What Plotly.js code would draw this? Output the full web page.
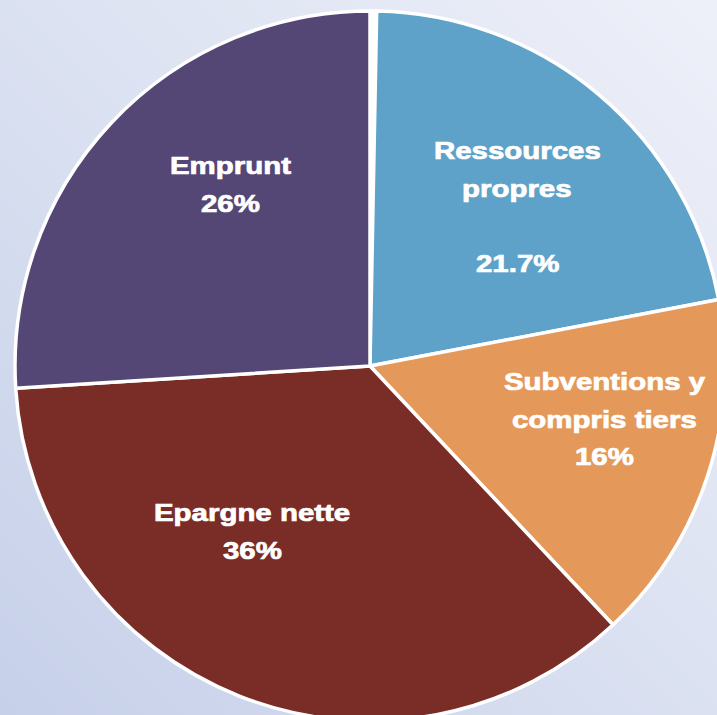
<!DOCTYPE html>
<html>
<head>
<meta charset="utf-8">
<script src="https://cdn.plot.ly/plotly-3.0.1.min.js"></script>
<style>
  html, body { margin: 0; padding: 0; width: 717px; height: 715px; overflow: hidden; }
  body { background: linear-gradient(225deg, #eef0f9 0%, #dde3f2 45%, #c6d0e9 100%); }
  #chart { position: absolute; left: 0; top: 0; width: 740px; height: 740px; }
  .annotation-text { transform-box: fill-box; transform-origin: center; transform: scaleX(1.28);
                     stroke: #ffffff; stroke-width: 0.7px; paint-order: stroke; }
</style>
</head>
<body>
<div id="chart"></div>
<script>
// ---- data ----
var categories = ['', 'Ressources propres', 'Subventions y compris tiers', 'Epargne nette', 'Emprunt'];
var values = [0.3, 21.7, 16, 36, 26];
var percentLabels = ['', '21.7%', '16%', '36%', '26%'];
var labelLines = [
  [],
  ['Ressources', 'propres', '', '21.7%'],
  ['Subventions y', 'compris tiers', '16%'],
  ['Epargne nette', '36%'],
  ['Emprunt', '26%']
];
var colors = ['#ffffff', '#5fa2c9', '#e4995a', '#7a2d27', '#554775'];

// ---- layout (pixel geometry of the page) ----
var W = 740, H = 740;
var cx = 370, cy = 366, R = 355;
var labelAnchors = [null, [517, 151], [604, 382], [252, 513], [230, 166]];
var lineStep = 37.5;

var annotations = [];
labelLines.forEach(function (lines, i) {
  if (!labelAnchors[i]) return;
  lines.forEach(function (t, k) {
    if (!t) return;
    annotations.push({
      xref: 'paper', yref: 'paper',
      x: labelAnchors[i][0] / W,
      y: 1 - (labelAnchors[i][1] + k * lineStep) / H,
      xanchor: 'center', yanchor: 'middle',
      text: t, showarrow: false,
      font: { family: 'Liberation Sans, Arial, sans-serif', size: 23, color: '#ffffff', weight: 'bold' }
    });
  });
});

var trace = {
  type: 'pie',
  labels: categories.map(function (c, i) { return c || ('_' + i); }),
  values: values,
  text: percentLabels,
  sort: false,
  direction: 'clockwise',
  rotation: 0,
  textinfo: 'none',
  hoverinfo: 'label+percent',
  showlegend: false,
  marker: { colors: colors, line: { color: '#ffffff', width: 3.5 } },
  domain: { x: [(cx - R) / W, (cx + R) / W], y: [1 - (cy + R) / H, 1 - (cy - R) / H] }
};

var layout = {
  width: W, height: H,
  margin: { l: 0, r: 0, t: 0, b: 0 },
  paper_bgcolor: 'rgba(0,0,0,0)',
  plot_bgcolor: 'rgba(0,0,0,0)',
  showlegend: false,
  annotations: annotations
};

Plotly.newPlot('chart', [trace], layout, { displayModeBar: false, staticPlot: true });
</script>
</body>
</html>
